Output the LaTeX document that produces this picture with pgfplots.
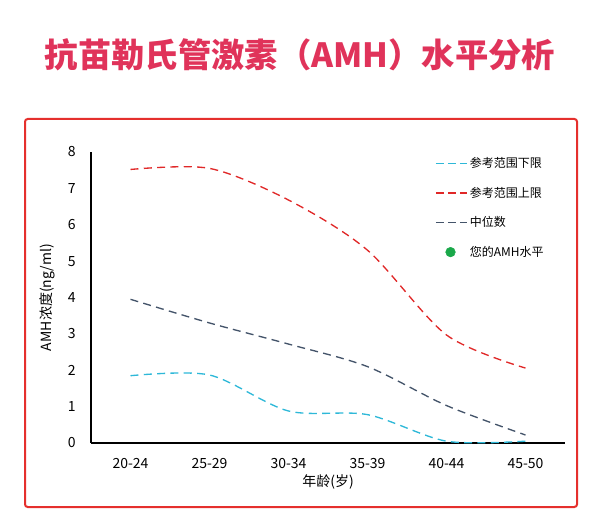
\documentclass[border=0pt]{standalone}
\usepackage{fontspec}
\setmainfont{Noto Sans CJK SC}
\usepackage{pgfplots}
\pgfplotsset{compat=1.18}
\definecolor{titlecol}{HTML}{E0335A}
\definecolor{boxred}{HTML}{E5302D}
\definecolor{cyanl}{HTML}{2EB8D8}
\definecolor{redl}{HTML}{E02828}
\definecolor{navyl}{HTML}{44546A}
\definecolor{greendot}{HTML}{1AA84A}
\begin{document}
\begin{tikzpicture}[x=0.75pt,y=0.75pt]
\path[use as bounding box] (0,0) rectangle (600,529);
\node[text=titlecol, font=\fontsize{25}{30}\selectfont\bfseries] at (300,474) {抗苗勒氏管激素（AMH）水平分析};
\draw[boxred, line width=1.5pt, rounded corners=2pt] (25,410) rectangle (577,22);
\begin{axis}[
  at={(68.25pt,64.5pt)}, anchor=south west,
  scale only axis, width=355.5pt, height=218.25pt,
  xmin=-0.5, xmax=5.5, ymin=0, ymax=8,
  axis x line=bottom, axis y line=left,
  axis line style={-, black, line width=1.3pt},
  xtick={0,1,2,3,4,5},
  xticklabels={20-24,25-29,30-34,35-39,40-44,45-50},
  ytick={0,1,2,3,4,5,6,7,8},
  major tick length=0pt,
  /pgf/number format/assume math mode=true,
  tick label style={font=\fontsize{10.5}{12}\selectfont},
  xticklabel style={yshift=-8pt},
  yticklabel style={xshift=-8pt},
  xlabel={年龄(岁)},
  ylabel={AMH浓度(ng/ml)},
  label style={font=\fontsize{10.5}{12}\selectfont},
  xlabel style={at={(axis description cs:0.5,-0.134)}, anchor=center},
  ylabel style={at={(axis description cs:-0.093,0.5)}, anchor=center, rotate=0},
  legend style={draw=none, fill=none, at={(0.717,1.0)}, anchor=north west,
    font=\fontsize{9}{11}\selectfont, row sep=9pt, legend cell align=left},
  clip=false,
]
\addlegendimage{legend image code/.code={\draw[cyanl, line width=1.1pt, dash pattern=on 6pt off 3pt] (0pt,0pt) -- (23pt,0pt);}}
\addlegendentry{参考范围下限}
\addlegendimage{legend image code/.code={\draw[redl, line width=1.1pt, dash pattern=on 6pt off 3pt] (0pt,0pt) -- (23pt,0pt);}}
\addlegendentry{参考范围上限}
\addlegendimage{legend image code/.code={\draw[navyl, line width=1.1pt, dash pattern=on 6pt off 3pt] (0pt,0pt) -- (23pt,0pt);}}
\addlegendentry{中位数}
\addlegendimage{legend image code/.code={\fill[greendot] (11pt,0pt) circle (3.6pt);}}
\addlegendentry{您的AMH水平}
\addplot[cyanl, line width=1pt, dash pattern=on 6pt off 4pt, smooth, forget plot] coordinates {
 (0,1.85) (1,1.87) (2,0.88) (3,0.78) (4,0.05) (5,0.05)};
\addplot[redl, line width=1pt, dash pattern=on 6pt off 4pt, smooth, forget plot] coordinates {
 (0,7.52) (1,7.55) (2,6.68) (3,5.3) (4,2.97) (5,2.06)};
\addplot[navyl, line width=1pt, dash pattern=on 6pt off 4pt, smooth, forget plot] coordinates {
 (0,3.95) (1,3.3) (2,2.72) (3,2.1) (4,1.03) (5,0.22)};
\end{axis}
\end{tikzpicture}
\end{document}
